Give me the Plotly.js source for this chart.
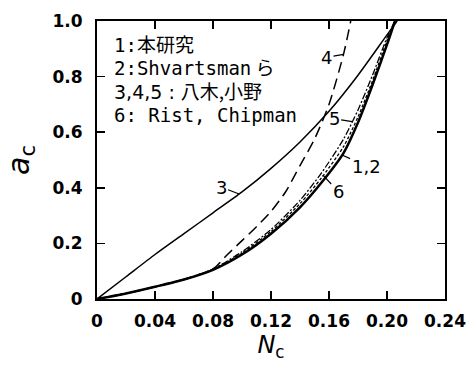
<!DOCTYPE html>
<html>
<head>
<meta charset="utf-8">
<script src="https://cdn.plot.ly/plotly-3.0.1.min.js"></script>
<style>html,body{margin:0;padding:0;background:#fff;}#chart{width:469px;height:372px;}</style>
</head>
<body>
<div id="chart"></div>
<script>
// Curves 1,2 (this study / Shvartsman et al.) - solid
var x12 = [0, 0.02, 0.04, 0.06, 0.08, 0.10, 0.12, 0.14, 0.155, 0.17, 0.18, 0.19, 0.20, 0.2055];
var y12 = [0, 0.02, 0.044, 0.07, 0.105, 0.16, 0.235, 0.33, 0.42, 0.525, 0.635, 0.77, 0.915, 1.0];
// Curve 3 (Yagi, Ono) - thin solid
var x3 = [0, 0.02, 0.04, 0.06, 0.08, 0.10, 0.12, 0.14, 0.16, 0.18, 0.20, 0.207];
var y3 = [0, 0.08, 0.16, 0.235, 0.31, 0.385, 0.47, 0.565, 0.675, 0.805, 0.95, 1.0];
// Curve 4 - long dash
var x4 = [0, 0.02, 0.04, 0.06, 0.08, 0.09, 0.10, 0.11, 0.12, 0.13, 0.14, 0.15, 0.16, 0.17, 0.175];
var y4 = [0, 0.02, 0.044, 0.07, 0.108, 0.16, 0.21, 0.26, 0.315, 0.385, 0.48, 0.575, 0.70, 0.88, 1.0];
// Curve 5 - dash-dot
var x5 = [0, 0.02, 0.04, 0.06, 0.08, 0.10, 0.12, 0.14, 0.155, 0.17, 0.18, 0.19, 0.20, 0.2055];
var y5 = [0, 0.02, 0.044, 0.071, 0.108, 0.17, 0.25, 0.355, 0.455, 0.575, 0.68, 0.805, 0.94, 1.0];
// Curve 6 (Rist, Chipman) - short dash
var x6 = [0, 0.02, 0.04, 0.06, 0.08, 0.10, 0.12, 0.14, 0.155, 0.17, 0.18, 0.19, 0.20, 0.2055];
var y6 = [0, 0.02, 0.044, 0.07, 0.106, 0.165, 0.243, 0.343, 0.437, 0.548, 0.655, 0.785, 0.93, 1.0];

var xTickVals = [0, 0.04, 0.08, 0.12, 0.16, 0.20, 0.24];
var xTickText = ['0', '0.04', '0.08', '0.12', '0.16', '0.20', '0.24'];
var yTickVals = [0, 0.2, 0.4, 0.6, 0.8, 1.0];
var yTickText = ['0', '0.2', '0.4', '0.6', '0.8', '1.0'];

var MONO = 'font-family:DejaVu Sans Mono;font-size:19px';
var CJK = 'font-family:Noto Sans CJK JP;font-size:19px';
var PROP = 'font-family:DejaVu Sans;font-size:19px';
var legendLines = [
  '<span style="' + MONO + '">1:</span><span style="' + CJK + '">本研究</span>',
  '<span style="' + MONO + '">2:Shvartsman</span><span style="' + CJK + '"> ら</span>',
  '<span style="' + PROP + '">3,4,5 : </span><span style="' + CJK + '">八木,小野</span>',
  '<span style="' + MONO + '">6: Rist, Chipman</span>'
];

function yAt(xs, ys, x) {
  for (var i = 1; i < xs.length; i++) {
    if (x <= xs[i]) {
      var t = (x - xs[i-1]) / (xs[i] - xs[i-1]);
      return ys[i-1] + t * (ys[i] - ys[i-1]);
    }
  }
  return ys[ys.length-1];
}

var fam = 'DejaVu Sans, Noto Sans CJK JP, sans-serif';
var traces = [
  {x: x3, y: y3, mode: 'lines', line: {color: '#000', width: 1.5}},
  {x: x4, y: y4, mode: 'lines', line: {color: '#000', width: 1.5, dash: '11px,6px'}},
  {x: x5, y: y5, mode: 'lines', line: {color: '#000', width: 1.3, dash: '7px,2px,2px,2px'}},
  {x: x6, y: y6, mode: 'lines', line: {color: '#000', width: 1.3, dash: '3px,2px'}},
  {x: x12, y: y12, mode: 'lines', line: {color: '#000', width: 2.5}}
];
traces.forEach(function(t){ t.line.shape = 'spline'; t.line.smoothing = 0.7; t.showlegend = false; t.hoverinfo = 'skip'; });

var ann = [];
ann.push({x: 0.010, y: 0.795, xref: 'x', yref: 'y', text: legendLines.join('<br>'), showarrow: false,
  xanchor: 'left', yanchor: 'middle', align: 'left', font: {family: fam, size: 18, color: '#000'}});
function lab(txt, xs, ys, xv, ax, ay) {
  ann.push({x: xv, y: yAt(xs, ys, xv), xref: 'x', yref: 'y', text: txt, showarrow: true,
    arrowhead: 0, arrowwidth: 1.2, arrowcolor: '#000', ax: ax, ay: ay, standoff: 0, startstandoff: 0,
    font: {family: fam, size: 18, color: '#000'}});
}
lab('3', x3, y3, 0.098, -18, -7);
lab('4', x4, y4, 0.170, -17, 3);
lab('5', x5, y5, 0.176, -18, -3);
lab('1,2', x12, y12, 0.169, 24, 11);
lab('6', x6, y6, 0.156, 15, 16);

var axCommon = {
  showgrid: false, zeroline: false, showline: true, linecolor: '#000', linewidth: 2,
  ticks: 'inside', ticklen: 8, tickwidth: 1.5, tickcolor: '#000', mirror: 'ticks',
  tickfont: {family: 'DejaVu Sans, sans-serif', size: 17, color: '#000', weight: 'bold'}, fixedrange: true
};
var layout = {
  width: 469, height: 372,
  margin: {l: 97, r: 24, t: 21, b: 73},
  paper_bgcolor: '#fff', plot_bgcolor: '#fff',
  showlegend: false,
  xaxis: Object.assign({}, axCommon, {range: [0, 0.24], tickvals: xTickVals, ticktext: xTickText,
    ticklabelstandoff: 6,
    title: {text: '<i>N</i><sub>c</sub>', font: {family: fam, size: 24, color: '#000'}, standoff: 4}}),
  yaxis: Object.assign({}, axCommon, {range: [0, 1.0], tickvals: yTickVals, ticktext: yTickText,
    ticklabelstandoff: 9,
    title: {text: '<i>a</i><sub>c</sub>', font: {family: fam, size: 30, color: '#000'}, standoff: 14}}),
  annotations: ann
};
Plotly.newPlot('chart', traces, layout, {staticPlot: true, displayModeBar: false});
</script>
</body>
</html>
